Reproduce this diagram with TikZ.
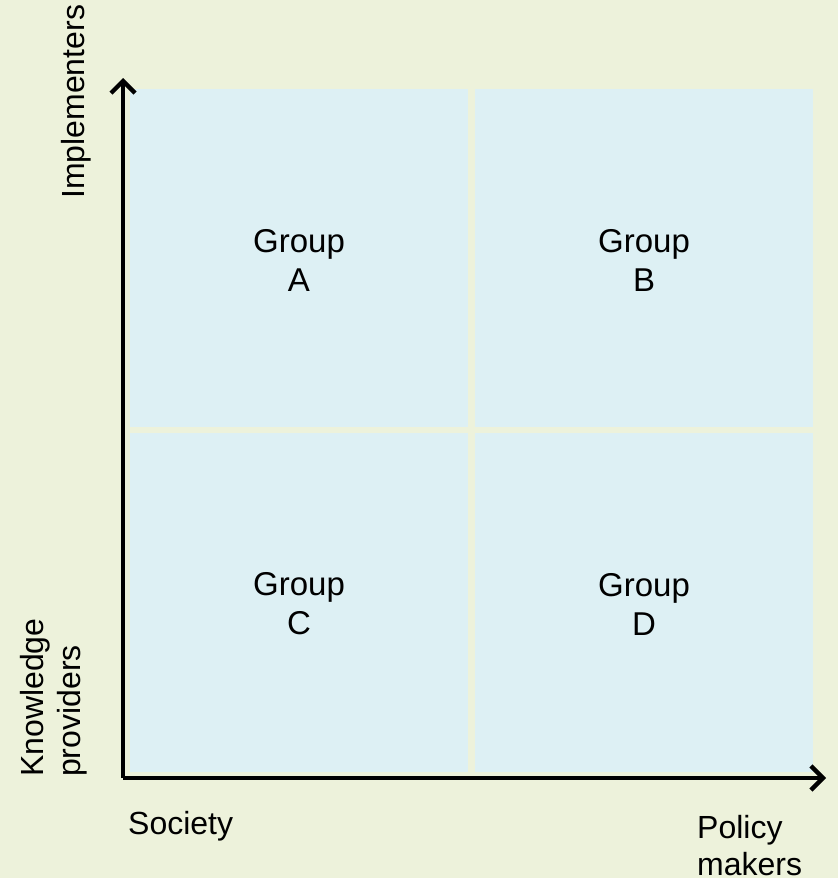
\documentclass[tikz,border=0pt]{standalone}
\usepackage{fontspec}
\setmainfont{Liberation Sans}
\usetikzlibrary{arrows.meta}
\definecolor{bgc}{RGB}{237,242,219}
\definecolor{quadc}{RGB}{221,240,244}
\begin{document}
\begin{tikzpicture}[x=1pt,y=-1pt,
  quad/.style={fill=quadc,draw=none},
  grp/.style={align=center,font=\fontsize{33}{39}\selectfont,inner sep=0pt},
  axlab/.style={font=\fontsize{32}{37}\selectfont,inner sep=0pt},
  axis/.style={line width=4.3pt,-{Straight Barb[length=12pt,width=24pt,line width=4.3pt]}}]
\fill[bgc] (0,0) rectangle (838,878);
\useasboundingbox (0,0) rectangle (838,878);
\fill[quad] (130,89) rectangle (468,427);
\fill[quad] (475,89) rectangle (813,427);
\fill[quad] (130,433) rectangle (468,772);
\fill[quad] (475,433) rectangle (813,772);
\node[grp] (ga) at (299,260) {Group\\A};
\node[grp] (gb) at (644,260) {Group\\B};
\node[grp] (gc) at (299,604) {Group\\C};
\node[grp] (gd) at (644,604) {Group\\D};
\coordinate (o) at (123,778);
\coordinate (ytip) at (123,78);
\coordinate (xtip) at (826,778);
\draw[axis] (o) -- (ytip);
\draw[axis] (o) -- (xtip);
\node[axlab,rotate=90,anchor=west] (impl) at (76,199) {Implementers};
\node[axlab,rotate=90,anchor=north west,align=left] (know) at (20,777) {Knowledge\\providers};
\node[axlab,anchor=west] (soc) at (128,826) {Society};
\node[axlab,align=left,anchor=north west] (pol) at (697,815) {Policy\\makers};
\end{tikzpicture}
\end{document}
